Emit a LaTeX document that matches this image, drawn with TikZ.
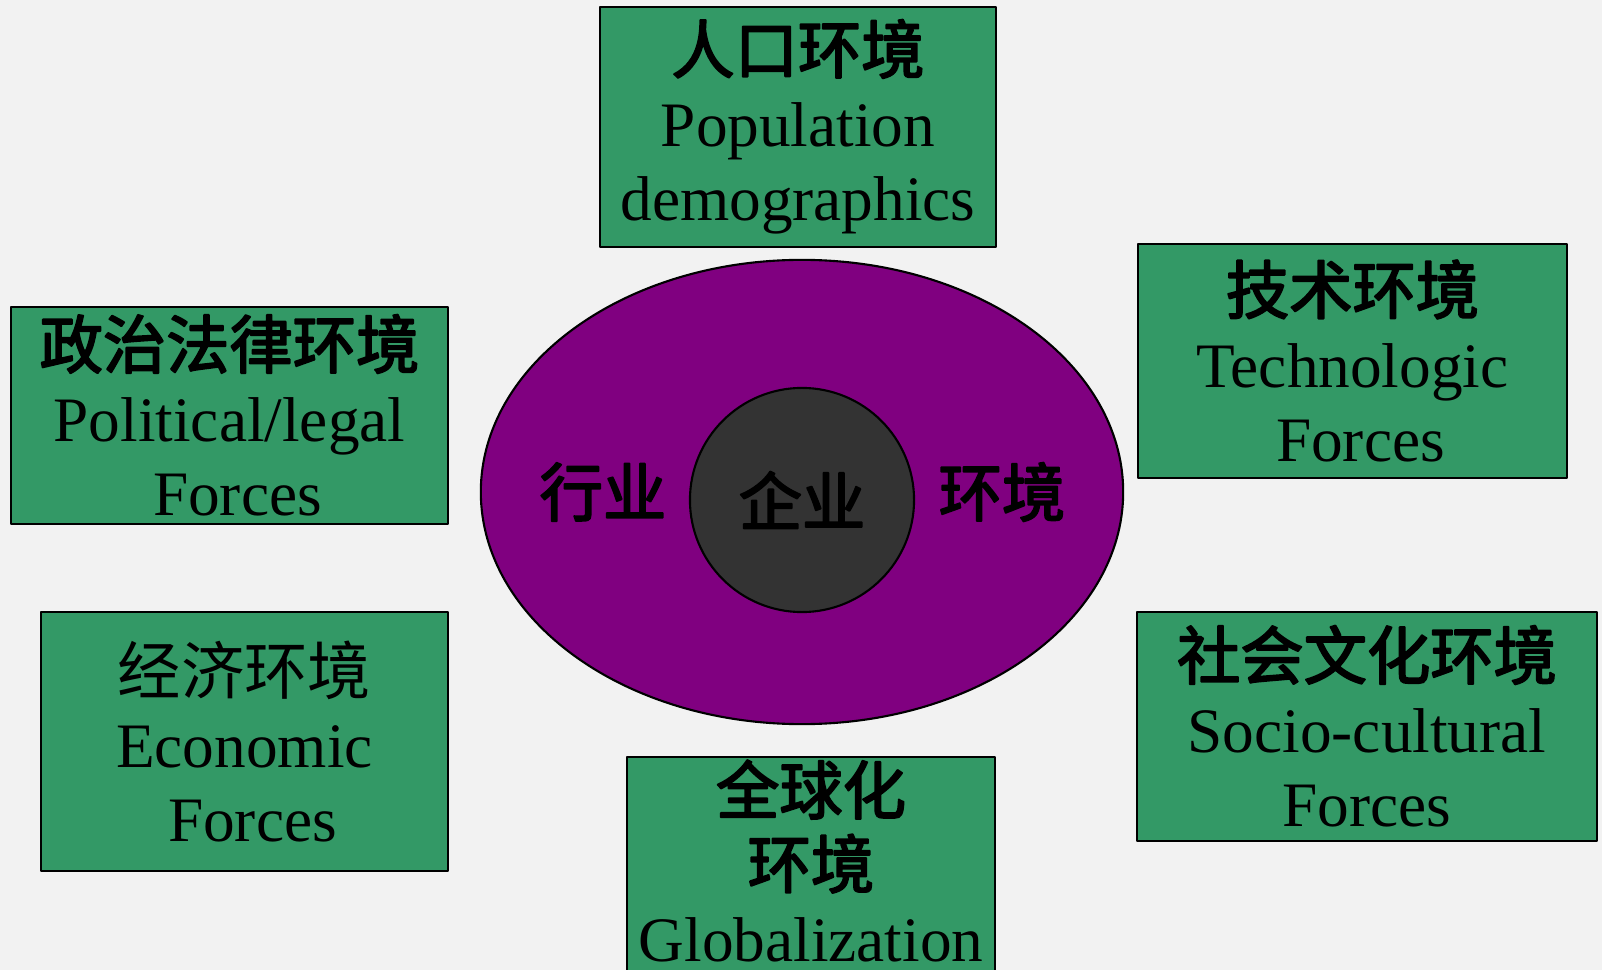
\documentclass[tikz,border=0pt]{standalone}
\usepackage{fontspec}
\setmainfont{Liberation Serif}
\newfontfamily\cjk{Noto Sans CJK SC}
\newfontfamily\cjkb{Noto Sans CJK SC}[FakeBold=3]
\usetikzlibrary{shapes.geometric}
\definecolor{bgcol}{HTML}{F2F2F2}
\definecolor{boxgreen}{HTML}{339966}
\definecolor{ringpurple}{HTML}{800080}
\definecolor{coregray}{HTML}{333333}
\newcommand{\zhb}[1]{{\cjkb #1}}
\newcommand{\lead}{\hspace*{0.16cm}}
\tikzset{
	force/.style={draw=black, fill=boxgreen, line width=0.6pt, align=center, inner sep=0pt, font=\fontsize{18}{21}\selectfont},
	zhlabel/.style={inner sep=0pt, font=\cjkb\fontsize{18}{21}\selectfont}
}
\begin{document}
\begin{tikzpicture}[x=0.01cm, y=-0.01cm, line join=round]
	%Background
	\fill[bgcol] (0,0) rectangle (1602,970);
	\useasboundingbox (0,0) rectangle (1602,970);

	%Industry ring and firm core
	\node[ellipse, draw=black, fill=ringpurple, line width=0.6pt, minimum width=6.42cm, minimum height=4.64cm] (industry) at (802,492) {};
	\node[circle, draw=black, fill=coregray, line width=0.6pt, minimum size=2.24cm, zhlabel] (firm) at (802,500) {企业};
	\node[zhlabel] (indleft) at (603,492) {行业};
	\node[zhlabel] (indright) at (1002,492) {环境};

	%Macro environment forces
	\node[force, minimum width=3.96cm, minimum height=2.40cm] (population) at (798,127) {\zhb{人口环境}\\Population\\demographics};
	\node[force, minimum width=4.37cm, minimum height=2.17cm] (political) at (229.5,415.5) {\zhb{政治法律环境}\\Political/legal\\\lead Forces};
	\node[force, minimum width=4.07cm, minimum height=2.59cm] (economic) at (244.5,741.5) {{\cjk 经济环境}\\Economic\\\lead Forces};
	\node[force, minimum width=4.29cm, minimum height=2.34cm] (technologic) at (1352.5,361) {\zhb{技术环境}\\Technologic\\\lead Forces};
	\node[force, minimum width=4.60cm, minimum height=2.29cm] (social) at (1367,726.5) {\zhb{社会文化环境}\\Socio-cultural\\Forces};
	\node[force, anchor=north, inner ysep=0.03cm, minimum width=3.68cm, text depth=2cm] (global) at (811,756) {\zhb{全球化}\\\zhb{环境}\\Globalization};
\end{tikzpicture}
\end{document}
